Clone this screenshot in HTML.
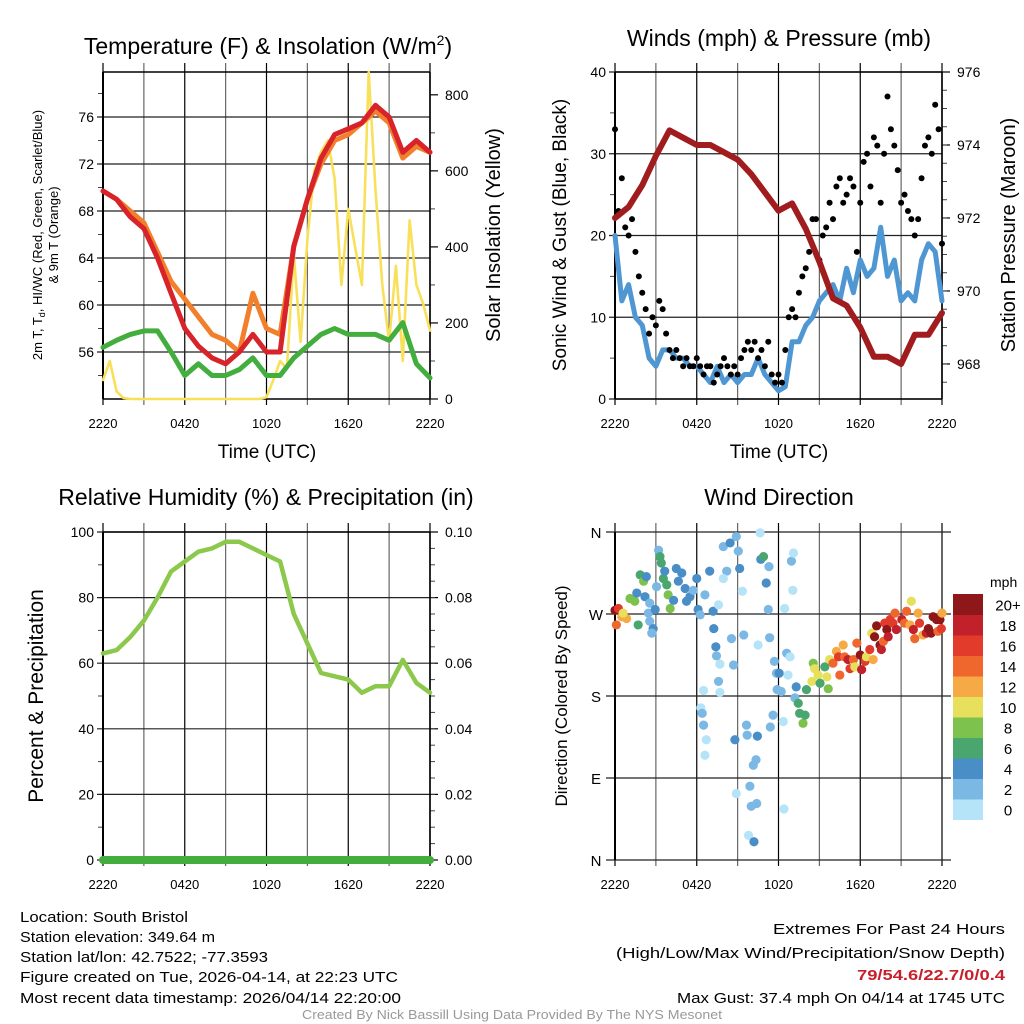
<!DOCTYPE html>
<html><head><meta charset="utf-8"><style>
html,body{margin:0;padding:0;background:#fff}
svg{display:block;font-family:"Liberation Sans",Arial,sans-serif}
</style></head><body>
<svg id="fig" width="1024" height="1024" viewBox="0 0 1024 1024" xmlns="http://www.w3.org/2000/svg">
<rect width="1024" height="1024" fill="#fff"/>
<g id="p1"></g>
<g id="p2"></g>
<g id="p3"></g>
<g id="p4"></g>

<text x="268" y="54" font-size="23" text-anchor="middle">Temperature (F) &amp; Insolation (W/m<tspan font-size="14" dy="-9">2</tspan><tspan dy="9">)</tspan></text>
<text x="779" y="46" font-size="23" text-anchor="middle">Winds (mph) &amp; Pressure (mb)</text>
<text x="266" y="505" font-size="23" text-anchor="middle">Relative Humidity (%) &amp; Precipitation (in)</text>
<text x="779" y="505" font-size="23" text-anchor="middle">Wind Direction</text>

<text transform="translate(42,235) rotate(-90)" font-size="13" text-anchor="middle">2m T, T<tspan font-size="9" dy="3">d</tspan><tspan dy="-3">, HI/WC (Red, Green, Scarlet/Blue)</tspan></text>
<text transform="translate(58,235) rotate(-90)" font-size="13" text-anchor="middle">&amp; 9m T (Orange)</text>
<text transform="translate(500,235) rotate(-90)" font-size="20" text-anchor="middle">Solar Insolation (Yellow)</text>
<text x="267" y="458" font-size="19" text-anchor="middle">Time (UTC)</text>
<text transform="translate(566,235) rotate(-90)" font-size="19" text-anchor="middle">Sonic Wind &amp; Gust (Blue, Black)</text>
<text transform="translate(1015,235) rotate(-90)" font-size="20" text-anchor="middle">Station Pressure (Maroon)</text>
<text x="779" y="458" font-size="19" text-anchor="middle">Time (UTC)</text>
<text transform="translate(43,696) rotate(-90)" font-size="21" text-anchor="middle">Percent &amp; Precipitation</text>
<text transform="translate(567,696) rotate(-90)" font-size="17" text-anchor="middle">Direction (Colored By Speed)</text>

<g font-size="15">
<text x="20" y="922" textLength="168" lengthAdjust="spacingAndGlyphs">Location: South Bristol</text>
<text x="20" y="942" textLength="195" lengthAdjust="spacingAndGlyphs">Station elevation: 349.64 m</text>
<text x="20" y="962" textLength="248" lengthAdjust="spacingAndGlyphs">Station lat/lon: 42.7522; -77.3593</text>
<text x="20" y="982" textLength="378" lengthAdjust="spacingAndGlyphs">Figure created on Tue, 2026-04-14, at 22:23 UTC</text>
<text x="20" y="1003" textLength="381" lengthAdjust="spacingAndGlyphs">Most recent data timestamp: 2026/04/14 22:20:00</text>
</g>
<g font-size="15" text-anchor="end">
<text x="1005" y="934" textLength="232" lengthAdjust="spacingAndGlyphs">Extremes For Past 24 Hours</text>
<text x="1005" y="958" textLength="389" lengthAdjust="spacingAndGlyphs">(High/Low/Max Wind/Precipitation/Snow Depth)</text>
<text x="1005" y="980" font-weight="bold" fill="#c8202a" textLength="148" lengthAdjust="spacingAndGlyphs">79/54.6/22.7/0/0.4</text>
<text x="1005" y="1003" textLength="328" lengthAdjust="spacingAndGlyphs">Max Gust: 37.4 mph On 04/14 at 1745 UTC</text>
</g>
<text x="512" y="1019" font-size="13" fill="#999" text-anchor="middle" textLength="420" lengthAdjust="spacingAndGlyphs">Created By Nick Bassill Using Data Provided By The NYS Mesonet</text>
</svg>
<script>
// ---- data (hours since 2220 UTC) ----
const timeTickLabels = ["2220","0420","1020","1620","2220"];
const hourly = [0,1,2,3,4,5,6,7,8,9,10,11,12,13,14,15,16,17,18,19,20,21,22,23,24];
const halfHourly = [0,0.5,1,1.5,2,2.5,3,3.5,4,4.5,5,5.5,6,6.5,7,7.5,8,8.5,9,9.5,10,10.5,11,11.5,12,12.5,13,13.5,14,14.5,15,15.5,16,16.5,17,17.5,18,18.5,19,19.5,20,20.5,21,21.5,22,22.5,23,23.5,24];
const temp2m = [69.7,69,67.5,66.5,64,61,58,56.5,55.5,55,56,57.5,56,56,65,69,72.5,74.5,75,75.5,77,76,73,74,73];
const temp9m = [69.7,69,68,67,64.5,62,60.5,59,57.5,57,56,61,58,57.5,65,69,72,74,74.5,75.5,76.5,75.5,72.5,73.5,73];
const dewpoint = [56.4,57,57.5,57.8,57.8,56,54,55,54,54,54.5,55.5,54,54,55.5,56.5,57.5,58,57.5,57.5,57.5,57,58.5,55,53.8];
const insolation = [50,100,20,3,0,0,0,0,0,0,0,0,0,0,0,0,0,0,0,0,0,0,0,0,5,50,100,80,380,150,420,600,650,680,580,300,500,400,300,860,550,300,150,350,100,470,300,250,180];
const tempTicks = [56,60,64,68,72,76];
const insoTicks = [0,200,400,600,800];
const sonicWind = [20,12,14,10,9,5,4,6,6,5,5,4,4,3,2,4,2,3,2,3,3,5,3,2,1,1.5,7,7,9,10,12,13,14,12,16,13,17,15,16,21,15,17,12,13,12,17,19,18,12];
const gust = [33,23,27,21,20,22,18,15,13,11,8,10,9,12,11,8,6,5,6,5,4,5,4,4,5,4,3,4,4,2,3,4,5,4,3,4,3,5,6,7,6,7,5,6,4,7,3,2,3,2,6,10,11,10,13,15,16,18,22,22,17,20,21,24,22,26,27,24,25,27,26,18,24,29,30,26,32,31,24,30,37,33,31,28,24,25,23,22,20,22,27,31,32,30,36,33,19];
const pressure = [972.0,972.3,972.9,973.7,974.4,974.2,974.0,974.0,973.8,973.6,973.2,972.7,972.2,972.4,971.7,970.8,969.8,969.6,969.0,968.2,968.2,968.0,968.8,968.8,969.4];
const windTicks = [0,10,20,30,40];
const pressTicks = [968,970,972,974,976];
const rh = [63,64,68,73,80,88,91,94,95,97,97,95,93,91,75,66,57,56,55,51,53,53,61,54,51];
const precip = [0,0,0,0,0,0,0,0,0,0,0,0,0,0,0,0,0,0,0,0,0,0,0,0,0];
const rhTicks = [0,20,40,60,80,100];
const precipTicks = ["0.00","0.02","0.04","0.06","0.08","0.10"];
const dirTime = [0,0.25,0.5,0.85,0.6,0.1,1.1,1.45,1.7,1.85,2.1,2.3,1.6,2.2,2.55,2.45,2.55,2.8,2.7,2.95,3.05,3.2,3.3,3.4,3.55,3.65,3.8,3.9,4.05,4.3,4.5,4.65,4.9,5.15,5.25,5.5,5.75,6.0,6.1,6.25,6.6,6.95,7.2,7.25,7.4,7.45,7.6,7.7,7.6,7.7,6.5,6.3,6.4,6.5,6.7,6.6,7.95,8.45,8.2,7.95,8.55,8.7,8.8,8.9,8.9,9.05,9.15,9.35,9.45,9.65,9.7,9.8,9.9,10.0,10.15,10.2,10.35,10.4,10.45,10.5,10.65,10.7,10.9,11.1,11.25,11.3,11.35,11.4,11.6,11.7,11.85,12.05,11.9,12.2,12.35,12.45,12.4,12.6,12.7,12.85,12.95,13.05,13.1,13.3,13.2,13.45,13.55,13.8,13.95,14.05,14.45,14.55,14.65,14.9,15.05,15.4,15.55,15.65,15.75,16.0,16.25,16.4,16.5,16.75,16.85,17.1,17.25,17.5,17.6,17.75,18.0,18.1,18.35,18.45,18.7,18.85,18.95,19.05,19.2,19.45,19.55,19.7,19.8,19.95,20.05,20.2,20.4,20.55,20.65,21.05,21.25,21.4,21.65,21.75,21.9,22.0,22.25,22.35,22.6,22.85,23.0,23.2,23.35,23.6,23.7,23.85,23.95,24.0];
const dirDeg = [274,276,267,265,271,258,287,284,258,313,306,311,293,289,282,271,262,254,249,275,300,340,333,326,309,317,302,291,276,285,320,306,315,298,284,289,296,309,275,269,291,317,273,254,234,224,280,215,196,184,186,167,161,148,132,115,344,348,317,309,243,214,132,73,355,339,320,295,247,148,137,27,81,59,104,20,110,62,136,236,359,330,333,304,275,322,244,146,159,218,205,205,187,185,152,276,56,227,203,223,328,296,337,190,178,172,161,150,159,187,196,216,210,203,194,212,201,188,220,216,229,223,203,236,223,220,210,220,212,238,225,209,218,223,231,249,220,245,257,236,231,240,260,253,245,264,260,271,253,264,260,273,258,284,253,243,271,260,247,249,254,249,267,264,251,264,254,271];
const dirSpeed = [20,16,12,12,10,14,8,8,6,6,8,4,4,4,2,2,2,4,2,4,2,2,6,6,6,4,6,8,8,4,4,4,4,4,4,4,2,4,4,2,2,4,4,4,4,2,0,0,2,0,0,0,2,2,0,0,2,4,2,0,2,2,4,0,2,2,4,0,2,2,2,0,2,2,2,4,2,2,4,0,0,4,6,4,2,2,2,2,2,2,2,4,2,2,0,0,0,2,0,0,2,0,0,4,2,6,6,8,6,6,10,8,10,10,6,6,10,8,10,14,12,16,14,12,14,18,16,14,10,14,20,18,16,10,16,10,12,20,20,20,18,14,16,20,18,16,16,14,18,18,14,14,12,10,18,14,12,16,12,18,20,20,20,20,14,20,16,12];
const dirLabels = ["N","E","S","W","N"];
const speedBinLabels = ["0","2","4","6","8","10","12","14","16","18","20+"];
const speedColors = ["#b5e3f8","#7cb8e4","#4a8ec7","#4aa66f","#7cc24c","#e7e05c","#f6aa46","#f0672d","#e23b2c","#c0212a","#8e1719"];

const NS="http://www.w3.org/2000/svg";
function mk(parent,tag,attrs){const e=document.createElementNS(NS,tag);for(const k in attrs)e.setAttribute(k,attrs[k]);parent.appendChild(e);return e;}
function scale(d0,d1,r0,r1){return v=>r0+(v-d0)*(r1-r0)/(d1-d0);}

function frame(g,L,R,T,B,x,yL,leftTicks,leftMinor,yR,rightTicks,rightLabels,rightMinor,lblL){
  for(let h=0;h<=24;h+=3){
    const X=x(h);
    const l=mk(g,'line',{x1:X,x2:X,y1:T-9,y2:B+6,stroke:(h%6===0)?'#000':'#666','stroke-width':1.2});
    
    
  }
  leftTicks.forEach(v=>{
    const Y=yL(v);
    const l=mk(g,'line',{x1:L-6,x2:R,y1:Y,y2:Y,stroke:'#222','stroke-width':1.2});
    
    
    const t=mk(g,'text',{x:L-9,y:Y+5,'font-size':14,'text-anchor':'end'});
    t.textContent=lblL?lblL(v):v;
    
    
  });
  leftMinor.forEach(v=>{const Y=yL(v);mk(g,'line',{x1:L-5,x2:L,y1:Y,y2:Y,stroke:'#444','stroke-width':1});});
  rightTicks.forEach((v,i)=>{
    const Y=yR(v);
    mk(g,'line',{x1:R,x2:R+8,y1:Y,y2:Y,stroke:'#000','stroke-width':1.2});
    const t=mk(g,'text',{x:R+15,y:Y+5,'font-size':14});
    t.textContent=rightLabels[i];
    
    
  });
  rightMinor.forEach(v=>{const Y=yR(v);mk(g,'line',{x1:R,x2:R+5,y1:Y,y2:Y,stroke:'#444','stroke-width':1});});
  mk(g,'line',{x1:L,x2:R,y1:T,y2:T,stroke:'#000','stroke-width':1.4});
  mk(g,'line',{x1:L,x2:R,y1:B,y2:B,stroke:'#000','stroke-width':1.4});
  mk(g,'line',{x1:L,x2:L,y1:T,y2:B,stroke:'#000','stroke-width':2});
  mk(g,'line',{x1:R,x2:R,y1:T,y2:B,stroke:'#000','stroke-width':1.6});
  timeTickLabels.forEach((s,i)=>{
    const t=mk(g,'text',{x:x(i*6),y:B+29,'font-size':13,'text-anchor':'middle'});
    t.textContent=s;
    
    
  });
}
function line(g,xs,ys,x,y,color,w,name){
  const d=xs.map((t,i)=>(i?'L':'M')+x(t).toFixed(1)+','+y(ys[i]).toFixed(1)).join('');
  const p=mk(g,'path',{d:d,fill:'none',stroke:color,'stroke-width':w,'stroke-linejoin':'round','stroke-linecap':'round'});
  
  
  return p;
}
function range(a,b,s){const r=[];for(let v=a;v<=b+1e-9;v+=s)r.push(+v.toFixed(4));return r;}

// ---- Panel 1 ----
(function(){
  const g=document.getElementById('p1');
  const L=103,R=430,T=72,B=399;
  const x=scale(0,24,L,R), y=scale(52,79.83,B,T), yI=scale(0,860,B,T);
  frame(g,L,R,T,B,x,y,tempTicks,range(54,78,4),yI,insoTicks,insoTicks.map(String),range(100,800,200),null);
  line(g,halfHourly,insolation,x,yI,'#f9e05a',2.6,'insolation-line');
  line(g,hourly,temp9m,x,y,'#f27f2c',5,'temp-9m-line');
  line(g,hourly,dewpoint,x,y,'#43ad3d',5,'dewpoint-line');
  line(g,hourly,temp2m,x,y,'#d8232a',5,'temp-2m-line');
})();
// ---- Panel 2 ----
(function(){
  const g=document.getElementById('p2');
  const L=615,R=942,T=72,B=399;
  const x=scale(0,24,L,R), y=scale(0,40,B,T), yP=scale(967.04,976,B,T);
  frame(g,L,R,T,B,x,y,windTicks,range(5,35,10),yP,pressTicks,pressTicks.map(String),range(967.5,975.5,0.5),null);
  line(g,halfHourly,sonicWind,x,y,'#4f97d2',5,'sonic-wind-line');
  gust.forEach((v,i)=>{
    const c=mk(g,'circle',{cx:x(i*0.25),cy:y(v),r:3,fill:'#000'});
    
    
  });
  line(g,hourly,pressure,x,yP,'#a01c1e',6,'pressure-line');
})();
// ---- Panel 3 ----
(function(){
  const g=document.getElementById('p3');
  const L=103,R=430,T=532,B=860;
  const x=scale(0,24,L,R), y=scale(0,100,B,T), yP=scale(0,0.1,B,T);
  frame(g,L,R,T,B,x,y,rhTicks,range(10,90,20),yP,precipTicks.map(Number),precipTicks,range(0.005,0.095,0.005),null);
  line(g,hourly,rh,x,y,'#8cc84b',4.5,'rh-line');
  line(g,hourly,precip,x,yP,'#43ad3d',8,'precip-line');
})();
// ---- Panel 4 ----
(function(){
  const g=document.getElementById('p4');
  const L=615,R=942,T=532,B=860;
  const x=scale(0,24,L,R), y=scale(0,360,B,T);
  for(let h=0;h<=24;h+=3){
    const X=x(h);
    const l=mk(g,'line',{x1:X,x2:X,y1:T-9,y2:B+6,stroke:(h%6===0)?'#000':'#666','stroke-width':1.2});
    
    
  }
  dirLabels.forEach((s,i)=>{
    const Y=y(i*90);
    mk(g,'line',{x1:L-9,x2:R+9,y1:Y,y2:Y,stroke:'#222','stroke-width':1.2});
    const t=mk(g,'text',{x:L-19,y:Y+6,'font-size':15,'text-anchor':'middle'});
    t.textContent=s;
    
    
  });
  mk(g,'line',{x1:L,x2:L,y1:T,y2:B,stroke:'#000','stroke-width':2});
  timeTickLabels.forEach((s,i)=>{
    const t=mk(g,'text',{x:x(i*6),y:B+29,'font-size':13,'text-anchor':'middle'});
    t.textContent=s;
    
    
  });
  dirTime.forEach((t,i)=>{
    const bin=Math.min(10,Math.floor(dirSpeed[i]/2));
    const c=mk(g,'circle',{cx:x(t),cy:y(dirDeg[i]),r:4.6,fill:speedColors[bin]});
    
    
  });
  const cbTop=594,cbH=20.5;
  const mph=mk(g,'text',{x:990,y:587,'font-size':14});
  mph.textContent='mph';
  
  
  speedBinLabels.forEach((s,i)=>{
    const k=speedBinLabels.length-1-i;
    const Y=cbTop+k*cbH;
    const r=mk(g,'rect',{x:953,y:Y,width:30,height:cbH+0.5,fill:speedColors[i]});
    
    
    const t=mk(g,'text',{x:1008,y:Y+cbH/2+6,'font-size':15,'text-anchor':'middle'});
    t.textContent=s;
    
    
  });
})();
</script>
</body></html>
